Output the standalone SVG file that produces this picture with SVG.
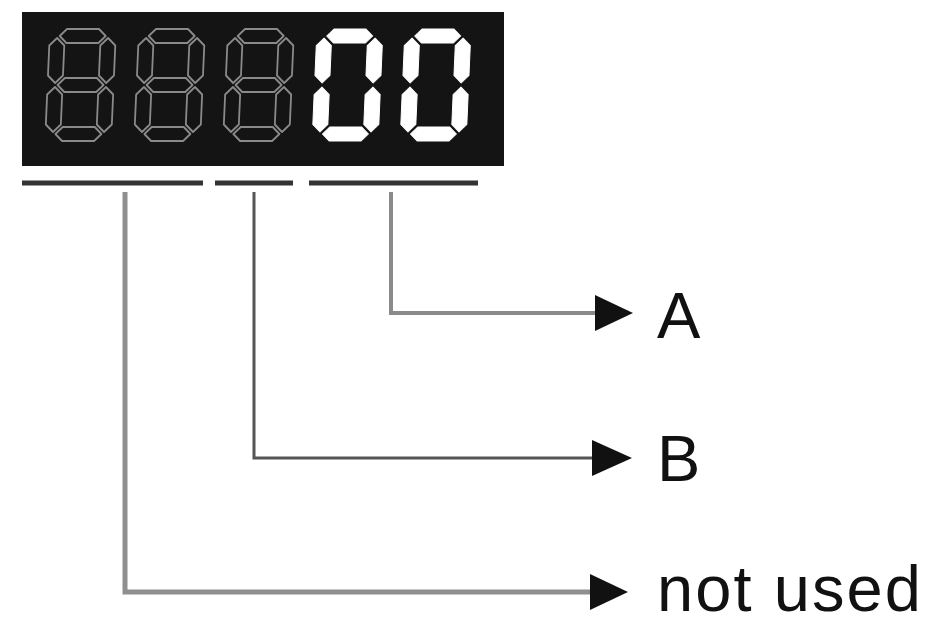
<svg xmlns="http://www.w3.org/2000/svg" width="926" height="625" viewBox="0 0 926 625">
<defs>
<style>
.dim{fill:none;stroke:#8a8a8a;stroke-width:1.8;stroke-linejoin:round}
.lit{fill:#ffffff;stroke:#ffffff;stroke-width:1;stroke-linejoin:round}
.lbl{font-family:"Liberation Sans",Arial,sans-serif;font-size:65px;fill:#111}
.ul{stroke:#333;stroke-width:5}
.head{fill:#111}
</style>
<polygon id="seg-a" points="10,7 17,0 49,0 56,7 49,14 17,14"/>
<polygon id="seg-b" points="58.5,9 66,16.5 66,46.5 58.5,54 51,46.5 51,16.5"/>
<polygon id="seg-c" points="58.5,58 66,65.5 66,95.5 58.5,103 51,95.5 51,65.5"/>
<polygon id="seg-d" points="10,105 17,98 49,98 56,105 49,112 17,112"/>
<polygon id="seg-e" points="7.5,58 15,65.5 15,95.5 7.5,103 0,95.5 0,65.5"/>
<polygon id="seg-f" points="7.5,9 15,16.5 15,46.5 7.5,54 0,46.5 0,16.5"/>
<polygon id="seg-g" points="10,56 17,49 49,49 56,56 49,63 17,63"/>
<g id="eight"><use href="#seg-a"/><use href="#seg-b"/><use href="#seg-c"/><use href="#seg-d"/><use href="#seg-e"/><use href="#seg-f"/><use href="#seg-g"/></g>
<g id="zero"><use href="#seg-a"/><use href="#seg-b"/><use href="#seg-c"/><use href="#seg-d"/><use href="#seg-e"/><use href="#seg-f"/></g>
</defs>
<rect width="926" height="625" fill="#ffffff"/>
<g id="display">
<rect x="22" y="12" width="482" height="154" fill="#141414"/>
<g class="dim" transform="translate(50,29) skewX(-2.5)"><use href="#eight"/></g>
<g class="dim" transform="translate(139,29) skewX(-2.5)"><use href="#eight"/></g>
<g class="dim" transform="translate(228,29) skewX(-2.5)"><use href="#eight"/></g>
<g class="lit" transform="translate(317,29) skewX(-2.5)"><use href="#zero"/></g>
<g class="lit" transform="translate(405,29) skewX(-2.5)"><use href="#zero"/></g>
</g>
<g id="underlines">
<line class="ul" x1="22" y1="183" x2="203" y2="183"/>
<line class="ul" x1="215" y1="183" x2="293" y2="183"/>
<line class="ul" x1="309" y1="183" x2="478" y2="183"/>
</g>
<g id="connectors" fill="none">
<polyline points="391,192 391,313 597,313" stroke="#8a8a8a" stroke-width="4"/>
<polygon class="head" points="595,295 633,313 595,331"/>
<polyline points="254,192 254,458 594,458" stroke="#555" stroke-width="3"/>
<polygon class="head" points="592,440 632,458 592,476"/>
<polyline points="125,192 125,592 592,592" stroke="#8f8f8f" stroke-width="5"/>
<polygon class="head" points="590,574 628,592 590,610"/>
</g>
<g id="label-A"><text class="lbl" x="657" y="338">A</text></g>
<g id="label-B"><text class="lbl" x="657" y="481">B</text></g>
<g id="label-notused"><text class="lbl" x="657" y="611" textLength="264" lengthAdjust="spacing">not used</text></g>
</svg>
